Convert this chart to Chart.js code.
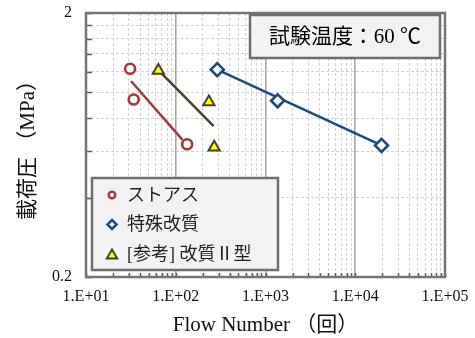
<!DOCTYPE html>
<html>
<head>
<meta charset="utf-8">
<script src="https://cdn.jsdelivr.net/npm/chart.js@4.4.1/dist/chart.umd.min.js"></script>
<style>
  html, body { margin: 0; padding: 0; background: #ffffff; }
  canvas { display: block; }
</style>
</head>
<body>
<canvas id="chart" width="475" height="338"></canvas>
<script>
const FONT = '"Liberation Serif", "Times New Roman", "Noto Sans CJK JP", serif';

// Series names
const seriesNames = ['ストアス', '特殊改質', '[参考] 改質Ⅱ型'];

// ストアス: measured points and fitted line
const stoasCycles = [31, 34, 134];
const stoasPressure = [1.23, 0.94, 0.637];
const stoasFitCycles = [31.7, 119];
const stoasFitPressure = [1.105, 0.661];

// 特殊改質: measured points and fitted line
const specialCycles = [290, 1365, 19630];
const specialPressure = [1.22, 0.93, 0.63];
const specialFitCycles = [290, 19630];
const specialFitPressure = [1.22, 0.63];

// [参考] 改質Ⅱ型: measured points and fitted line
const refCycles = [64, 234, 268];
const refPressure = [1.21, 0.92, 0.62];
const refFitCycles = [66.5, 264];
const refFitPressure = [1.2, 0.746];

// Axis ticks
const xDecades = [10, 100, 1000, 10000];
const xMultipliers = [1, 2, 3, 4, 5, 6, 7, 8, 9];
const xMax = 100000;
const xTickLabels = ['1.E+01', '1.E+02', '1.E+03', '1.E+04', '1.E+05'];
const yTickValues = [0.2, 0.4, 0.6, 0.8, 1.0, 1.2, 1.4, 1.6, 1.8, 2.0];
const yTickLabels = ['0.2', '', '', '', '', '', '', '', '', '2'];

const annotationText = '試験温度：60 ℃';

const COLORS = {
  stoas: '#a3393b',
  special: '#1f4a80',
  refEdge: '#47432a',
  refFill: '#ffff00',
  frame: '#757575',
  major: '#a6a6a6',
  minor: '#d2d2d2',
  tick: '#5a5a5a',
  boxFill: '#f2f2f2',
  boxEdge: '#6e6e6e'
};

const pts = (xs, ys) => xs.map((x, i) => ({ x: x, y: ys[i] }));

const xTickValues = [];
xDecades.forEach(d => xMultipliers.forEach(m => xTickValues.push(m * d)));
xTickValues.push(xMax);

const isPow10 = v => Math.abs(Math.log10(v) - Math.round(Math.log10(v))) < 1e-9;

// Keep the plot area fixed: no extra room for overhanging edge labels
function fixScaleSize(s, w, h) {
  if (w !== null) s.width = w;
  if (h !== null) s.height = h;
  s.paddingTop = 0; s.paddingBottom = 0; s.paddingLeft = 0; s.paddingRight = 0;
}

// Marker shapes used in the legend box
function drawMarker(ctx, style, x, y, r, fill, stroke, lw) {
  ctx.save();
  ctx.beginPath();
  if (style === 'circle') {
    ctx.arc(x, y, r, 0, Math.PI * 2);
  } else if (style === 'rectRot') {
    ctx.moveTo(x, y - r); ctx.lineTo(x + r, y); ctx.lineTo(x, y + r); ctx.lineTo(x - r, y);
  } else {
    ctx.moveTo(x, y - r);
    ctx.lineTo(x + r * Math.sin(Math.PI * 2 / 3), y - r * Math.cos(Math.PI * 2 / 3));
    ctx.lineTo(x + r * Math.sin(Math.PI * 4 / 3), y - r * Math.cos(Math.PI * 4 / 3));
  }
  ctx.closePath();
  ctx.fillStyle = fill; ctx.fill();
  ctx.lineWidth = lw; ctx.strokeStyle = stroke; ctx.stroke();
  ctx.restore();
}

// Inner tick marks, plot frame, note box and legend box
const decorPlugin = {
  id: 'decor',
  beforeDatasetsDraw(chart) {
    const { ctx, chartArea: a, scales } = chart;
    ctx.save();
    ctx.strokeStyle = COLORS.tick;
    ctx.lineWidth = 1.5;
    yTickValues.forEach(v => {
      const py = Math.round(scales.y.getPixelForValue(v)) + 0.5;
      ctx.beginPath(); ctx.moveTo(a.left, py); ctx.lineTo(a.left + 6, py); ctx.stroke();
    });
    xTickValues.forEach(v => {
      const px = Math.round(scales.x.getPixelForValue(v)) + 0.5;
      ctx.beginPath(); ctx.moveTo(px, a.bottom); ctx.lineTo(px, a.bottom - 4); ctx.stroke();
    });
    ctx.restore();
  },
  afterDatasetsDraw(chart) {
    const { ctx, chartArea: a } = chart;
    ctx.save();
    ctx.strokeStyle = COLORS.frame;
    ctx.lineWidth = 2.5;
    ctx.strokeRect(a.left, a.top, a.right - a.left, a.bottom - a.top);

    // note box
    const nx = a.left + 164, ny = a.top + 2, nw = 190, nh = 43;
    ctx.fillStyle = COLORS.boxFill;
    ctx.fillRect(nx, ny, nw, nh);
    ctx.strokeStyle = COLORS.boxEdge;
    ctx.lineWidth = 2.5;
    ctx.strokeRect(nx, ny, nw, nh);
    ctx.fillStyle = '#000';
    ctx.font = '21px ' + FONT;
    ctx.textAlign = 'center';
    ctx.textBaseline = 'middle';
    ctx.fillText(annotationText, nx + nw / 2, ny + nh / 2 + 1);

    // legend box
    const lx = a.left + 6, ly = a.top + 165, lw = 186, lh = 92;
    ctx.fillStyle = COLORS.boxFill;
    ctx.fillRect(lx, ly, lw, lh);
    ctx.strokeStyle = COLORS.boxEdge;
    ctx.lineWidth = 2.5;
    ctx.strokeRect(lx, ly, lw, lh);
    const rows = [
      { style: 'circle', r: 3.3, fill: '#ffffff', stroke: COLORS.stoas, w: 2.5 },
      { style: 'rectRot', r: 4.5, fill: '#ffffff', stroke: COLORS.special, w: 2.5 },
      { style: 'triangle', r: 6, fill: COLORS.refFill, stroke: COLORS.refEdge, w: 2 }
    ];
    ctx.font = '18px ' + FONT;
    ctx.textAlign = 'left';
    rows.forEach((row, i) => {
      const cy = ly + 17 + i * 29.5;
      drawMarker(ctx, row.style, lx + 20, cy + (row.style === 'triangle' ? 1.5 : 0), row.r, row.fill, row.stroke, row.w);
      ctx.fillStyle = '#222';
      ctx.fillText(seriesNames[i], lx + 35, cy + 1);
    });
    ctx.restore();
  }
};

new Chart(document.getElementById('chart'), {
  type: 'scatter',
  data: {
    datasets: [
      {
        label: seriesNames[0] + ' fit', data: pts(stoasFitCycles, stoasFitPressure),
        showLine: true, pointRadius: 0, borderColor: COLORS.stoas, borderWidth: 2.5, order: 2
      },
      {
        label: seriesNames[2] + ' fit', data: pts(refFitCycles, refFitPressure),
        showLine: true, pointRadius: 0, borderColor: COLORS.refEdge, borderWidth: 2.5, order: 2
      },
      {
        label: seriesNames[1] + ' fit', data: pts(specialFitCycles, specialFitPressure),
        showLine: true, pointRadius: 0, borderColor: COLORS.special, borderWidth: 2.5, order: 2
      },
      {
        label: seriesNames[0], data: pts(stoasCycles, stoasPressure),
        pointStyle: 'circle', pointRadius: 5, pointBorderWidth: 2.6,
        pointBorderColor: COLORS.stoas, pointBackgroundColor: '#ffffff', order: 1
      },
      {
        label: seriesNames[1], data: pts(specialCycles, specialPressure),
        pointStyle: 'rectRot', pointRadius: 6.5, pointBorderWidth: 2.6,
        pointBorderColor: COLORS.special, pointBackgroundColor: '#ffffff', order: 1
      },
      {
        label: seriesNames[2], data: pts(refCycles, refPressure),
        pointStyle: 'triangle', pointRadius: 6.5, pointBorderWidth: 2,
        pointBorderColor: COLORS.refEdge, pointBackgroundColor: COLORS.refFill, order: 1
      }
    ]
  },
  options: {
    responsive: false,
    animation: false,
    events: [],
    layout: { padding: { top: 13, right: 30, left: 0, bottom: 0 } },
    plugins: { legend: { display: false }, tooltip: { enabled: false } },
    scales: {
      x: {
        type: 'logarithmic',
        min: 10, max: xMax,
        afterBuildTicks: s => { s.ticks = xTickValues.map(v => ({ value: v })); },
        afterFit: s => fixScaleSize(s, null, 61),
        ticks: {
          autoSkip: false, maxRotation: 0, padding: 10, color: '#111',
          font: { family: FONT, size: 16 },
          callback: v => isPow10(v) ? xTickLabels[Math.round(Math.log10(v)) - 1] : ''
        },
        grid: {
          drawTicks: false,
          color: c => (c.tick && isPow10(c.tick.value)) ? COLORS.major : COLORS.minor,
          lineWidth: c => (c.tick && isPow10(c.tick.value)) ? 1.6 : 1
        },
        border: {
          display: false,
          dash: c => (c.tick && isPow10(c.tick.value)) ? [] : [3, 2]
        },
        title: {
          display: true, text: 'Flow Number （回）', color: '#111',
          font: { family: FONT, size: 21 }, padding: { top: 0, bottom: 0 }
        }
      },
      y: {
        type: 'logarithmic',
        min: 0.2, max: 2,
        afterBuildTicks: s => { s.ticks = yTickValues.map(v => ({ value: v })); },
        afterFit: s => fixScaleSize(s, 86, null),
        ticks: {
          autoSkip: false, padding: 14, color: '#111',
          font: { family: FONT, size: 16 },
          callback: (v, i) => yTickLabels[i]
        },
        grid: { drawTicks: false, color: COLORS.minor, lineWidth: 1 },
        border: { display: false, dash: [3, 2] },
        title: {
          display: true, text: '載荷圧 （MPa）', color: '#111',
          font: { family: FONT, size: 21 }, padding: { top: 16, bottom: 0 }
        }
      }
    }
  },
  plugins: [decorPlugin]
});
</script>
</body>
</html>
